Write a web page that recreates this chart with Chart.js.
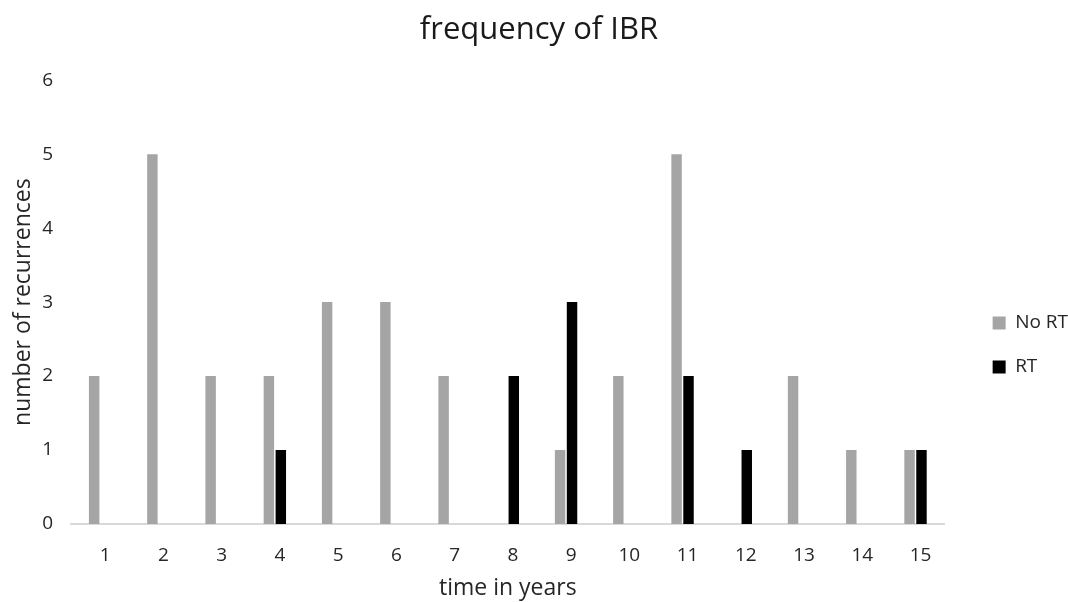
<!DOCTYPE html>
<html>
<head>
<meta charset="utf-8">
<script src="https://cdn.jsdelivr.net/npm/chart.js@4"></script>
<style>
  html, body { margin: 0; padding: 0; background: #fff; }
  #wrap { width: 1068px; height: 602px; }
</style>
</head>
<body>
<div id="wrap"><canvas id="chart"></canvas></div>
<script>
// 데이터
const years = ['1','2','3','4','5','6','7','8','9','10','11','12','13','14','15'];
const noRT = [2, 5, 2, 2, 3, 3, 2, 0, 1, 2, 5, 0, 2, 1, 1];
const rt   = [0, 0, 0, 1, 0, 0, 0, 2, 3, 0, 2, 1, 0, 0, 1];
const yTicks = [0, 1, 2, 3, 4, 5, 6];

Chart.defaults.font.family = "'Open Sans', 'Noto Sans', sans-serif";
Chart.defaults.color = '#262626';

const ctx = document.getElementById('chart').getContext('2d');
new Chart(ctx, {
  type: 'bar',
  data: {
    labels: years,
    datasets: [
      { label: 'No RT', data: noRT, backgroundColor: '#A5A5A5', categoryPercentage: 0.41, barPercentage: 0.875 },
      { label: 'RT', data: rt, backgroundColor: '#000000', categoryPercentage: 0.41, barPercentage: 0.875 }
    ]
  },
  options: {
    responsive: true,
    maintainAspectRatio: false,
    animation: false,
    layout: { padding: { left: 0, right: -10, top: 0, bottom: 0 } },
    plugins: {
      title: {
        display: true,
        text: 'frequency of IBR',
        font: { size: 31, weight: 'normal' },
        color: '#1a1a1a',
        padding: { top: 12, bottom: 31 }
      },
      legend: {
        position: 'right',
        // 범례를 아래로 조금 내리기 위한 빈 제목
        title: { display: true, text: '', font: { size: 20 }, padding: 32 },
        labels: {
          boxWidth: 13,
          boxHeight: 13,
          padding: 25,
          font: { size: 19 }
        }
      },
      tooltip: { enabled: false }
    },
    scales: {
      x: {
        grid: { display: false, drawTicks: false },
        border: { color: '#D9D9D9', width: 2 },
        afterFit: (scale) => { scale.height = 78; },
        ticks: { font: { size: 19 }, labelOffset: 5, padding: 20 },
        title: { display: true, text: 'time in years', font: { size: 23 }, padding: { top: 10, bottom: 0 } }
      },
      y: {
        min: 0,
        max: 6,
        grid: { display: false, drawTicks: false },
        border: { display: false },
        afterFit: (scale) => { scale.width = 71; },
        afterBuildTicks: (scale) => { scale.ticks = yTicks.map(v => ({ value: v })); },
        ticks: { font: { size: 19 }, padding: 18 },
        title: { display: true, text: 'number of recurrences', font: { size: 23 }, padding: { top: 10, bottom: 0 } }
      },
      // 플롯과 범례 사이 여백용 빈 축
      gap: {
        position: 'right',
        display: true,
        grid: { display: false, drawTicks: false },
        border: { display: false },
        ticks: { display: false },
        afterFit: (scale) => { scale.width = 23; }
      }
    }
  }
});
</script>
</body>
</html>
